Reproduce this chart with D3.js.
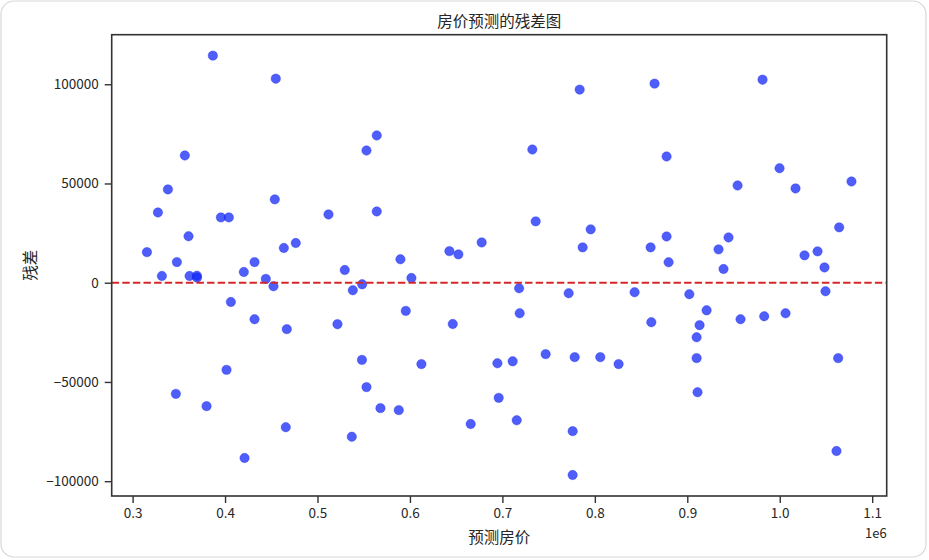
<!DOCTYPE html>
<html>
<head>
<meta charset="utf-8">
<script src="https://cdn.jsdelivr.net/npm/d3@7"></script>
<style>
  html, body { margin: 0; padding: 0; background: #fff; }
  svg { display: block; }
  text { font-family: "Noto Sans CJK SC", "Noto Sans", sans-serif; fill: #262626; }
</style>
</head>
<body>
<svg id="chart" width="929" height="560"></svg>
<script>
// Predicted house price (x) and residual (y)
const predicted = [
  315500, 327400, 331700, 338200, 347900, 346800, 356500, 360500, 361600, 369500,
  369700, 380000, 386800, 395500, 404100, 401600, 406300, 420300, 421100, 431900,
  431900, 444100, 452400, 453800, 454900, 463600, 466800, 465700, 476500, 511900,
  521600, 529500, 537100, 538200, 548300, 548100, 553000, 553000, 564100, 564100,
  568100, 587900, 589700, 595500, 601600, 612400, 642700, 646300, 652400, 665700,
  677600, 694600, 696000, 711100, 715500, 718100, 718700, 732400, 736000, 746800,
  771700, 776000, 776000, 778200, 783600, 786800, 795500, 805900, 825700, 843000,
  860300, 861100, 864600, 877600, 877600, 879800, 902200, 910100, 910100, 911100,
  913300, 920900, 933800, 939200, 944600, 954400, 957600, 981400, 983200, 999800,
  1006300, 1017100, 1026800, 1040900, 1048400, 1049500, 1061400, 1063200, 1064300, 1077600
];
const residuals = [
  15400, 35400, 3400, 47000, 10400, -56000, 64100, 23400, 3400, 3500,
  2600, -62200, 114400, 32900, 32900, -43900, -9700, 5400, -88300, 10400,
  -18400, 1900, -1800, 42000, 102800, 17500, -23400, -72800, 20000, 34400,
  -20900, 6400, -77600, -3800, -800, -38900, 66600, -52600, 74200, 35900,
  -63200, -64200, 11800, -14200, 2400, -41000, 15900, -20800, 14300, -71200,
  20300, -40600, -58000, -39600, -69300, -2800, -15400, 67100, 30900, -36000,
  -5300, -74800, -96900, -37500, 97300, 17800, 26900, -37500, -41000, -4800,
  17800, -19900, 100300, 63600, 23300, 10300, -5800, -27500, -38000, -55200,
  -21400, -13900, 16800, 6900, 22800, 49000, -18400, 102300, -16900, 57700,
  -15400, 47500, 13800, 15800, 7700, -4300, -84800, -38000, 27900, 51000
];
const xTicks = [300000, 400000, 500000, 600000, 700000, 800000, 900000, 1000000, 1100000];
const xTickLabels = ["0.3", "0.4", "0.5", "0.6", "0.7", "0.8", "0.9", "1.0", "1.1"];
const yTicks = [-100000, -50000, 0, 50000, 100000];
const yTickLabels = ["\u2212100000", "\u221250000", "0", "50000", "100000"];
const title = "房价预测的残差图";
const xLabel = "预测房价";
const yLabel = "残差";
const offsetText = "1e6";

const svg = d3.select("#chart");
const W = 929, H = 560;
const margin = { left: 111.7, right: W - 886.7, top: 34.7, bottom: H - 496 };

// card frame
svg.append("rect")
  .attr("x", 1).attr("y", 1).attr("width", 925).attr("height", 556)
  .attr("rx", 13).attr("ry", 13)
  .attr("fill", "#fff").attr("stroke", "#d8d8d8").attr("stroke-width", 1.2);

function padded(ext) {
  const r = ext[1] - ext[0];
  return [ext[0] - 0.05 * r, ext[1] + 0.05 * r];
}
const x = d3.scaleLinear().domain(padded(d3.extent(predicted)))
  .range([margin.left, W - margin.right]);
const y = d3.scaleLinear().domain(padded(d3.extent(residuals)))
  .range([H - margin.bottom, margin.top]);

const axisColor = "#333";

// points
const pts = predicted.map((p, i) => ({ p, r: residuals[i] }));
svg.append("g").selectAll("circle").data(pts).enter().append("circle")
  .attr("cx", d => x(d.p)).attr("cy", d => y(d.r)).attr("r", 4.7)
  .attr("fill", "rgb(20,40,245)").attr("fill-opacity", 0.75)
  .attr("stroke", "rgb(20,40,245)").attr("stroke-opacity", 0.45).attr("stroke-width", 0.8);

// zero line
svg.append("line")
  .attr("x1", margin.left).attr("x2", W - margin.right)
  .attr("y1", y(0)).attr("y2", y(0))
  .attr("stroke", "#d62728").attr("stroke-width", 2)
  .attr("stroke-dasharray", "7.4,3.2");

// axes
const xAxis = d3.axisBottom(x).tickValues(xTicks)
  .tickFormat((d, i) => xTickLabels[i]).tickSize(7).tickPadding(5).tickSizeOuter(0);
const gx = svg.append("g").attr("transform", `translate(0,${H - margin.bottom})`).call(xAxis);
const yAxis = d3.axisLeft(y).tickValues(yTicks)
  .tickFormat((d, i) => yTickLabels[i]).tickSize(7).tickPadding(6).tickSizeOuter(0);
const gy = svg.append("g").attr("transform", `translate(${margin.left},0)`).call(yAxis);

[gx, gy].forEach(g => {
  g.select(".domain").remove();
  g.selectAll(".tick line").attr("stroke", axisColor).attr("stroke-width", 1.4);
  g.selectAll(".tick text").attr("fill", "#262626")
    .style("font-size", "13.5px")
    .style("font-family", '"Noto Sans CJK SC", "Noto Sans", sans-serif');
});

// frame
svg.append("rect")
  .attr("x", margin.left).attr("y", margin.top)
  .attr("width", W - margin.right - margin.left)
  .attr("height", H - margin.bottom - margin.top)
  .attr("fill", "none").attr("stroke", axisColor).attr("stroke-width", 1.6);

// title & labels
const cx = (margin.left + W - margin.right) / 2;
svg.append("text").attr("x", cx).attr("y", 27).attr("text-anchor", "middle")
  .style("font-size", "15.5px").text(title);
svg.append("text").attr("x", cx).attr("y", 543).attr("text-anchor", "middle")
  .style("font-size", "15.5px").text(xLabel);
svg.append("text").attr("transform", `translate(36,${(margin.top + H - margin.bottom) / 2}) rotate(-90)`)
  .attr("text-anchor", "middle").style("font-size", "15.5px").text(yLabel);
svg.append("text").attr("x", W - margin.right).attr("y", 538).attr("text-anchor", "end")
  .style("font-size", "13px").text(offsetText);
</script>
</body>
</html>
